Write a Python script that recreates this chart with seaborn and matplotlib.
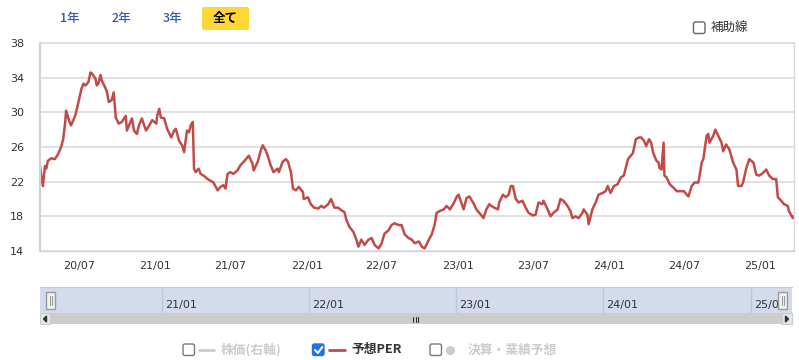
import pandas as pd
import numpy as np
import matplotlib.pyplot as plt
import matplotlib.dates as mdates
import matplotlib.transforms as mtransforms
from matplotlib.patches import Rectangle, FancyBboxPatch, Polygon
from matplotlib.lines import Line2D
import seaborn as sns


dates = [
    "2020-03-28", "2020-03-30", "2020-04-04", "2020-04-09", "2020-04-12", "2020-04-16", "2020-04-24",
    "2020-05-03", "2020-05-11", "2020-05-18", "2020-05-23", "2020-05-28", "2020-05-30", "2020-06-04",
    "2020-06-09", "2020-06-11", "2020-06-21", "2020-06-29", "2020-07-06", "2020-07-11", "2020-07-16",
    "2020-07-23", "2020-07-28", "2020-07-31", "2020-08-09", "2020-08-12", "2020-08-16", "2020-08-21",
    "2020-08-24", "2020-09-03", "2020-09-06", "2020-09-10", "2020-09-17", "2020-09-22", "2020-09-27",
    "2020-10-04", "2020-10-12", "2020-10-21", "2020-10-24", "2020-10-29", "2020-11-05", "2020-11-10",
    "2020-11-17", "2020-11-22", "2020-11-29", "2020-12-09", "2020-12-17", "2020-12-24",
    "2021-01-03", "2021-01-05", "2021-01-10", "2021-01-14", "2021-01-22", "2021-01-29", "2021-02-08",
    "2021-02-15", "2021-02-19", "2021-02-27", "2021-03-06", "2021-03-11", "2021-03-18", "2021-03-23",
    "2021-03-27", "2021-04-01", "2021-04-04", "2021-04-08", "2021-04-15", "2021-04-20", "2021-04-27",
    "2021-05-07", "2021-05-14", "2021-05-21", "2021-05-31", "2021-06-07", "2021-06-14", "2021-06-19",
    "2021-06-24", "2021-07-01", "2021-07-08", "2021-07-18", "2021-07-25", "2021-08-02", "2021-08-11",
    "2021-08-14", "2021-08-23", "2021-08-26", "2021-09-05", "2021-09-12", "2021-09-17", "2021-09-24",
    "2021-09-29", "2021-10-06", "2021-10-13", "2021-10-23", "2021-10-26", "2021-11-04", "2021-11-12",
    "2021-11-17", "2021-11-24", "2021-11-29", "2021-12-06", "2021-12-13", "2021-12-23", "2021-12-25",
    "2022-01-04", "2022-01-11", "2022-01-19", "2022-01-29", "2022-02-05", "2022-02-12", "2022-02-22",
    "2022-03-01", "2022-03-09", "2022-03-18", "2022-03-26", "2022-04-02", "2022-04-07", "2022-04-14",
    "2022-04-24", "2022-05-01", "2022-05-06", "2022-05-13", "2022-05-21", "2022-05-30", "2022-06-07",
    "2022-06-14", "2022-06-24", "2022-07-01", "2022-07-08", "2022-07-18", "2022-07-25", "2022-08-01",
    "2022-08-11", "2022-08-18", "2022-08-26", "2022-09-04", "2022-09-12", "2022-09-19", "2022-09-29",
    "2022-10-06", "2022-10-13", "2022-10-23", "2022-10-30", "2022-11-06", "2022-11-11", "2022-11-18",
    "2022-11-28", "2022-12-05", "2022-12-13", "2022-12-22", "2022-12-30",
    "2023-01-03", "2023-01-10", "2023-01-15", "2023-01-22", "2023-01-29", "2023-02-08", "2023-02-15",
    "2023-02-22", "2023-03-04", "2023-03-11", "2023-03-18", "2023-03-23", "2023-03-30", "2023-04-08",
    "2023-04-11", "2023-04-20", "2023-04-27", "2023-05-04", "2023-05-09", "2023-05-14", "2023-05-21",
    "2023-05-28", "2023-06-06", "2023-06-14", "2023-06-21", "2023-07-01", "2023-07-08", "2023-07-15",
    "2023-07-24", "2023-07-27", "2023-08-06", "2023-08-13", "2023-08-20", "2023-08-30", "2023-09-06",
    "2023-09-13", "2023-09-23", "2023-09-30", "2023-10-05", "2023-10-12", "2023-10-20", "2023-10-29",
    "2023-11-01", "2023-11-10", "2023-11-13", "2023-11-22", "2023-11-30", "2023-12-07", "2023-12-17",
    "2023-12-24", "2023-12-29",
    "2024-01-05", "2024-01-13", "2024-01-22", "2024-01-30", "2024-02-06", "2024-02-16", "2024-02-23",
    "2024-02-28", "2024-03-06", "2024-03-14", "2024-03-19", "2024-03-26", "2024-03-31", "2024-04-07",
    "2024-04-12", "2024-04-17", "2024-04-25", "2024-04-30", "2024-05-02", "2024-05-07", "2024-05-12",
    "2024-05-14", "2024-05-19", "2024-05-27", "2024-06-05", "2024-06-13", "2024-06-20", "2024-06-30",
    "2024-07-07", "2024-07-11", "2024-07-19", "2024-07-26", "2024-08-04", "2024-08-07", "2024-08-12",
    "2024-08-16", "2024-08-24", "2024-08-28", "2024-08-31", "2024-09-09", "2024-09-14", "2024-09-21",
    "2024-09-29", "2024-10-03", "2024-10-10", "2024-10-18", "2024-10-27", "2024-11-04", "2024-11-08",
    "2024-11-16", "2024-11-20", "2024-11-28", "2024-12-05", "2024-12-15", "2024-12-22", "2024-12-29",
    "2025-01-07", "2025-01-15", "2025-01-22", "2025-01-31", "2025-02-08", "2025-02-12", "2025-02-20",
    "2025-02-27", "2025-03-08", "2025-03-11", "2025-03-20", "2025-03-23",
]

per = [
    23.8, 23.0, 21.5, 23.8, 23.5, 24.4, 24.7,
    24.6, 25.2, 26.0, 26.9, 28.9, 30.2, 29.4,
    28.7, 28.5, 29.6, 31.2, 32.7, 33.3, 33.1,
    33.5, 34.6, 34.5, 33.9, 33.1, 33.3, 34.3,
    33.7, 32.7, 32.3, 31.2, 31.4, 32.3, 29.4,
    28.7, 28.9, 29.6, 27.9, 28.5, 29.3, 27.9,
    27.5, 28.5, 29.3, 27.9, 28.5, 29.1,
    28.7, 29.6, 30.4, 29.4, 29.3, 28.1, 27.1,
    27.9, 28.1, 26.7, 26.2, 25.4, 27.9, 27.7,
    28.5, 28.9, 23.5, 23.1, 23.5, 22.9, 22.7,
    22.3, 22.1, 21.9, 21.0, 21.4, 21.6, 21.2,
    22.9, 23.1, 22.9, 23.3, 23.9, 24.3, 24.8,
    25.0, 24.1, 23.3, 24.3, 25.6, 26.2, 25.6,
    25.0, 23.9, 23.1, 23.5, 23.1, 24.3, 24.6,
    24.3, 23.1, 21.2, 21.0, 21.4, 20.8, 20.0,
    20.2, 19.4, 19.0, 18.9, 19.2, 19.0, 19.4,
    20.0, 19.0, 19.0, 18.7, 18.5, 17.6, 16.8,
    16.2, 15.3, 14.5, 15.3, 14.7, 15.3, 15.5,
    14.7, 14.3, 14.9, 16.0, 16.4, 17.0, 17.2,
    17.0, 17.0, 15.9, 15.5, 15.3, 14.9, 15.1,
    14.5, 14.3, 15.3, 15.9, 17.0, 18.4, 18.6,
    18.8, 19.2, 18.8, 19.5, 20.3,
    20.5, 19.5, 18.8, 20.1, 20.3, 19.5, 18.8,
    18.4, 17.8, 18.8, 19.4, 19.2, 19.0, 18.8,
    19.6, 20.5, 20.2, 20.5, 21.5, 21.5, 20.0,
    19.6, 19.8, 19.0, 18.4, 18.1, 18.2, 19.6,
    19.4, 19.8, 18.8, 18.0, 18.4, 18.8, 20.0,
    19.8, 19.2, 18.6, 17.8, 18.0, 17.8, 18.4,
    18.8, 18.2, 17.1, 18.8, 19.6, 20.5, 20.7,
    20.9, 21.5,
    20.7, 21.5, 21.7, 22.5, 22.7, 24.6, 25.0,
    25.3, 26.9, 27.1, 27.1, 26.7, 26.1, 26.9,
    26.5, 25.3, 24.4, 24.2, 23.6, 23.4, 26.5,
    22.7, 22.5, 21.7, 21.3, 20.9, 20.9, 20.9,
    20.5, 20.3, 21.5, 21.9, 21.9, 22.7, 24.2,
    24.6, 27.3, 27.5, 26.5, 27.3, 28.0, 27.3,
    26.5, 25.5, 26.3, 25.7, 24.2, 23.4, 21.5,
    21.5, 21.9, 23.6, 24.6, 24.2, 22.8, 22.7,
    23.0, 23.4, 22.7, 22.3, 22.3, 20.2, 19.8,
    19.4, 19.2, 18.6, 17.8, 18.0,
]

y_ticks = [14, 18, 22, 26, 30, 34, 38]
main_ticks = ["2020-07-01", "2021-01-01", "2021-07-01", "2022-01-01", "2022-07-01",
              "2023-01-01", "2023-07-01", "2024-01-01", "2024-07-01", "2025-01-01"]
nav_ticks = ["2021-01-01", "2022-01-01", "2023-01-01", "2024-01-01", "2025-01-01"]
range_buttons = ["1年", "2年", "3年", "全て"]
legend_labels = ["株価(右軸)", "予想PER", "決算・業績予想"]
aux_label = "補助線"

df = pd.DataFrame({"date": pd.to_datetime(dates), "per": per})

sns.set_style("white")
plt.rcParams["font.family"] = ["DejaVu Sans", "Noto Sans CJK JP"]
JP = ["Noto Sans CJK JP", "DejaVu Sans"]

RED = "#c24b48"
W, H = 799, 360
fig = plt.figure(figsize=(W / 100, H / 100), dpi=100)
# pixel coords, y pointing down
pix = mtransforms.Affine2D().scale(1 / W, -1 / H).translate(0, 1) + fig.transFigure


def box(x0, y0, x1, y1):
    return [x0 / W, 1 - y1 / H, (x1 - x0) / W, (y1 - y0) / H]


# main chart
ax = fig.add_axes(box(40, 43, 794, 251))
sns.lineplot(data=df, x="date", y="per", ax=ax, color=RED, linewidth=1.8)
ax.set_xlim(df["date"].min(), df["date"].max())
ax.set_ylim(14, 38)
ax.set_yticks(y_ticks)
ax.set_xticks(pd.to_datetime(main_ticks))
ax.xaxis.set_major_formatter(mdates.DateFormatter("%y/%m"))
ax.grid(axis="y", color="#d8d8d8", linewidth=1.1)
ax.grid(axis="x", visible=False)
ax.tick_params(axis="x", length=5, width=1, color="#ccd6eb", labelsize=8, labelcolor="#333333", pad=2.5)
ax.tick_params(axis="y", length=0, labelsize=8, labelcolor="#333333", pad=11.5)
ax.set_xlabel("")
ax.set_ylabel("")
ax.spines["left"].set_color("#d4d4d4")
ax.spines["left"].set_linewidth(1.6)
ax.spines["bottom"].set_color("#ccd6eb")
ax.spines["bottom"].set_linewidth(1.0)
ax.spines["right"].set_color("#d8d8d8")
ax.spines["right"].set_linewidth(1.0)
ax.spines["top"].set_color("#d8d8d8")
ax.spines["top"].set_linewidth(1.1)

# navigator
nav = fig.add_axes(box(40, 287, 792, 313))
nav.set_facecolor("#d3dbed")
nav.set_xlim(df["date"].min() - pd.Timedelta(days=25), df["date"].max() + pd.Timedelta(days=22))
nav.set_ylim(0, 1)
nav.set_xticks([])
nav.set_yticks([])
for s in ["left", "right", "bottom"]:
    nav.spines[s].set_visible(False)
nav.spines["top"].set_color("#c8c8c8")
blend = mtransforms.blended_transform_factory(nav.transData, nav.transAxes)
for t in pd.to_datetime(nav_ticks):
    nav.axvline(t, color="#bcc6de", linewidth=1)
    nav.text(t + pd.Timedelta(days=8), 0.31, t.strftime("%y/%m"), transform=blend,
             fontsize=8, color="#333333", va="center", ha="left", clip_on=True)

for hx in [46, 778]:
    fig.add_artist(Rectangle((hx, 292), 9, 17, transform=pix, facecolor="#f2f2f2",
                             edgecolor="#999999", linewidth=1))
    for lx in [hx + 3.5, hx + 5.5]:
        fig.add_artist(Line2D([lx, lx], [296, 305], transform=pix, color="#999999", linewidth=0.8))

# scrollbar
sb = fig.add_axes(box(40, 313, 792, 324))
sb.set_facecolor("#cccccc")
sb.set_xticks([])
sb.set_yticks([])
for s in sb.spines.values():
    s.set_visible(False)
fig.add_artist(Rectangle((40, 313), 10, 11, transform=pix, facecolor="#e6e6e6", edgecolor="#cccccc", linewidth=0.8))
fig.add_artist(Rectangle((782, 313), 10, 11, transform=pix, facecolor="#e6e6e6", edgecolor="#cccccc", linewidth=0.8))
fig.add_artist(Polygon([(46.5, 316), (46.5, 322), (43.5, 319)], closed=True, transform=pix, color="#333333"))
fig.add_artist(Polygon([(785.5, 316), (785.5, 322), (788.5, 319)], closed=True, transform=pix, color="#333333"))
for gx in [413, 415.5, 418]:
    fig.add_artist(Line2D([gx, gx], [316.5, 321.5], transform=pix, color="#333333", linewidth=0.8))

# range selector buttons
fig.add_artist(FancyBboxPatch((202, 7), 47, 23, boxstyle="round,pad=0,rounding_size=2",
                              transform=pix, facecolor="#fdd835", edgecolor="none"))
for label, bx in zip(range_buttons, [70, 121, 173, 225.5]):
    selected = label == "全て"
    fig.text(bx, 18.5, label, transform=pix, family=JP, fontsize=9,
             fontweight="bold" if selected else "medium",
             color="#000000" if selected else "#3558b0", ha="center", va="center")

# helper-line checkbox
fig.add_artist(FancyBboxPatch((693.5, 22), 11.5, 11.5, boxstyle="round,pad=0,rounding_size=2",
                              transform=pix, facecolor="white", edgecolor="#666666", linewidth=1))
fig.text(711, 28, aux_label, transform=pix, family=JP, fontsize=9, color="#333333", ha="left", va="center")

# legend
LY = 350
for cx, checked in [(183, False), (312.5, True), (430, False)]:
    fig.add_artist(FancyBboxPatch((cx, LY - 6), 11.5, 11.5, boxstyle="round,pad=0,rounding_size=2",
                                  transform=pix, facecolor="#1a73e8" if checked else "white",
                                  edgecolor="#1a73e8" if checked else "#777777", linewidth=1))
fig.add_artist(Line2D([315, 317.8, 322.3], [LY, LY + 3, LY - 3], transform=pix, color="white", linewidth=1.5))
fig.add_artist(Line2D([199, 214], [LY, LY], transform=pix, color="#cccccc", linewidth=2))
fig.add_artist(Line2D([329, 345], [LY, LY], transform=pix, color=RED, linewidth=2))
fig.add_artist(Line2D([450], [LY], transform=pix, color="#cccccc", marker="o", markersize=5.5, linestyle="none"))
for label, lx, col in zip(legend_labels, [221, 351, 468], ["#cccccc", "#333333", "#cccccc"]):
    fig.text(lx, LY, label, transform=pix, family=JP, fontsize=9.2, fontweight="bold",
             color=col, ha="left", va="center")

fig.savefig("out.png", dpi=100)
